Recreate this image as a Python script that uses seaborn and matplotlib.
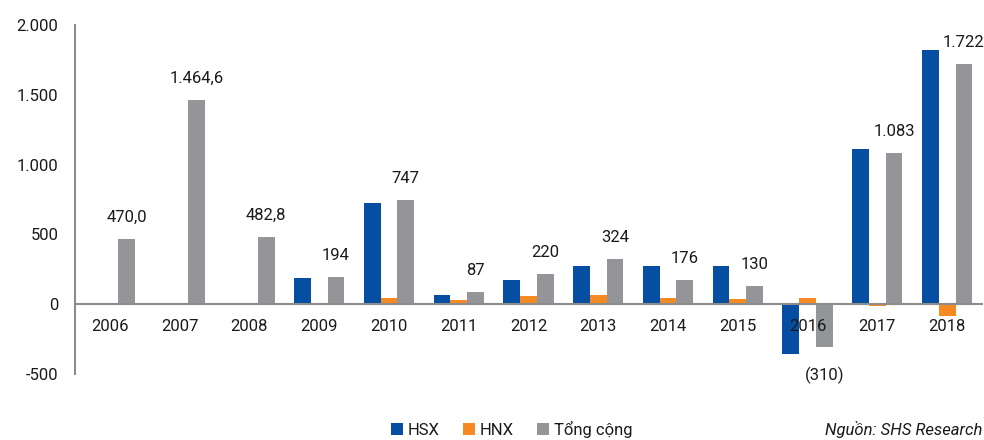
import matplotlib
matplotlib.use("Agg")
import matplotlib.pyplot as plt
import seaborn as sns
import pandas as pd
import numpy as np
from matplotlib.ticker import FuncFormatter, FixedLocator
from matplotlib.patches import Patch

years = ["2006", "2007", "2008", "2009", "2010", "2011", "2012",
         "2013", "2014", "2015", "2016", "2017", "2018"]
hsx = [np.nan, np.nan, np.nan, 188, 722, 67, 174, 275, 275, 272, -354, 1111, 1821]
hnx = [np.nan, np.nan, np.nan, 12, 45, 31, 60, 64, 41, 36, 41, -12, -84]
total = [470.0, 1464.6, 482.8, 194, 747, 87, 220, 324, 176, 130, -310, 1083, 1722]
total_labels = ["470,0", "1.464,6", "482,8", "194", "747", "87", "220",
                "324", "176", "130", "(310)", "1.083", "1.722"]
series_names = ["HSX", "HNX", "Tổng cộng"]
colors = ["#054ea2", "#f58a22", "#939598"]

rows = []
for name, vals in zip(series_names, [hsx, hnx, total]):
    for y, v in zip(years, vals):
        rows.append({"year": y, "series": name, "value": v})
df = pd.DataFrame(rows)

sns.set_style("white")
plt.rcParams["font.family"] = ["Roboto", "DejaVu Sans"]
plt.rcParams["font.size"] = 12
txt = "#1a1a1a"
axc = "#8c8c8c"

fig = plt.figure(figsize=(9.84, 4.4), dpi=100)
ax = fig.add_axes([0.0762, 0.15, 0.9218, 0.793])

sns.barplot(data=df, x="year", y="value", hue="series", hue_order=series_names,
            palette=colors, width=0.72, ax=ax, errorbar=None, saturation=1,
            linewidth=0, legend=True)
handles, labels = ax.get_legend_handles_labels()
ax.get_legend().remove()
for p in ax.patches:
    p.set_zorder(1)
ax.set_axisbelow(False)

ax.set_xlim(-0.5, len(years) - 0.5)
ax.set_ylim(-500, 2000)
ax.set_yticks([-500, 0, 500, 1000, 1500, 2000])
ax.yaxis.set_major_formatter(FuncFormatter(lambda v, p: f"{int(v):,}".replace(",", ".")))
ax.set_xlabel("")
ax.set_ylabel("")

for s in ["top", "right"]:
    ax.spines[s].set_visible(False)
ax.spines["bottom"].set_position(("data", 0))
ax.spines["bottom"].set_color(axc)
ax.spines["bottom"].set_linewidth(1.5)
ax.spines["left"].set_color(axc)
ax.spines["left"].set_linewidth(1.5)

ax.xaxis.set_minor_locator(FixedLocator(np.arange(-0.5, len(years), 1.0)))
ax.tick_params(axis="x", which="major", length=0, pad=11, colors=txt, labelsize=12)
ax.tick_params(axis="x", which="minor", length=5, width=1.5, color=axc, direction="out")
ax.tick_params(axis="y", which="major", length=4, width=1.5, color=axc, labelcolor=txt,
               direction="out", pad=8, labelsize=12)

# labels on total bars
offs = 0.72 / 3
for i, (v, lab) in enumerate(zip(total, total_labels)):
    if v >= 0:
        ax.annotate(lab, (i + offs, v), xytext=(0, 10), textcoords="offset points",
                    ha="center", va="bottom", color=txt, fontsize=12)
    else:
        ax.annotate(lab, (i + offs, v), xytext=(0, -14), textcoords="offset points",
                    ha="center", va="top", color=txt, fontsize=12)

leg_handles = [Patch(facecolor=c, edgecolor="none") for c in colors]
fig.legend(leg_handles, series_names, loc="center", bbox_to_anchor=(0.52, 0.025),
           ncol=3, frameon=False, handlelength=0.7, handleheight=0.7,
           handletextpad=0.3, columnspacing=1.4, fontsize=12, labelcolor=txt)

fig.text(0.998, 0.025, "Nguồn: SHS Research", ha="right", va="center",
         fontsize=12, style="italic", color=txt)

fig.savefig("out.png", dpi=100)
